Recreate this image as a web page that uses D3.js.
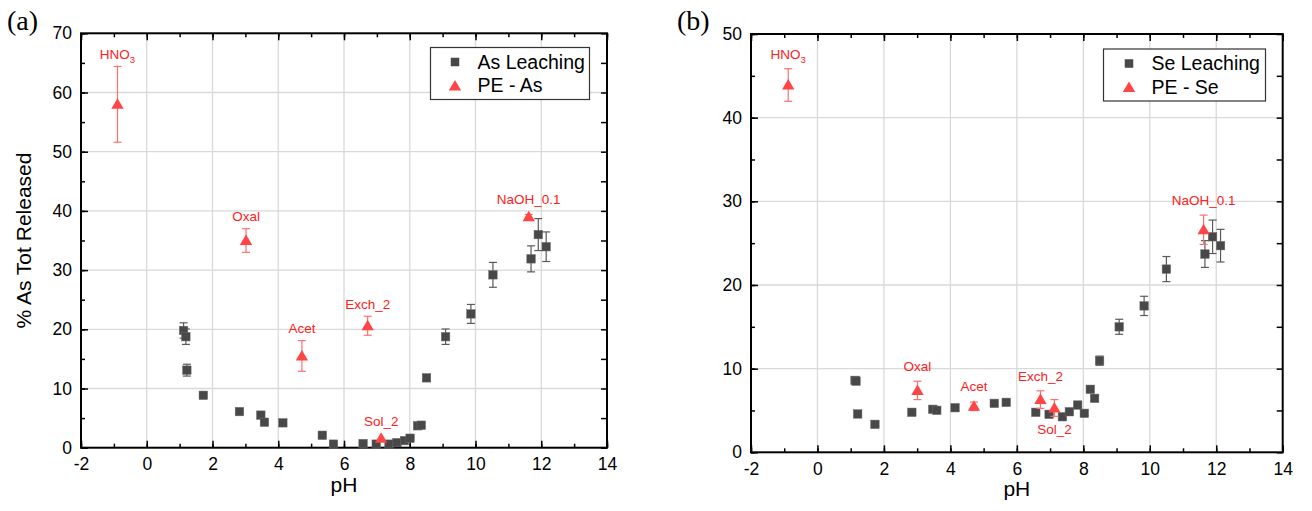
<!DOCTYPE html>
<html><head><meta charset="utf-8">
<script src="https://cdn.jsdelivr.net/npm/d3@7"></script>
<style>
html,body{margin:0;padding:0;background:#fff;}
svg{display:block;font-family:"Liberation Sans",Arial,sans-serif;}
</style></head>
<body><svg id="chart" width="1312" height="511"></svg>
<script>
// ---------- data ----------
const xTicks = [-2, 0, 2, 4, 6, 8, 10, 12, 14];
const yTicksA = [0, 10, 20, 30, 40, 50, 60, 70];
const yTicksB = [0, 10, 20, 30, 40, 50];

// Panel (a): As leaching
const phA   = [1.12, 1.19, 1.22, 1.72, 2.82, 3.47, 3.58, 4.14, 5.34, 5.68, 6.58, 6.98, 7.37, 7.61, 7.84, 8.01, 8.24, 8.35, 8.51, 9.09, 9.86, 10.53, 11.69, 11.91, 12.15];
const asVal = [19.8, 18.75, 13.1, 8.85, 6.1, 5.5, 4.3, 4.2, 2.1, 0.6, 0.7, 0.6, 0.6, 0.85, 1.2, 1.6, 3.7, 3.8, 11.8, 18.75, 22.6, 29.2, 31.9, 36.0, 33.95];
const asErr = [1.3, 1.3, 1.0, 0.3, 0.3, 0.3, 0.3, 0.3, 0.2, 0.2, 0.2, 0.2, 0.2, 0.2, 0.2, 0.2, 0.3, 0.3, 0.5, 1.3, 1.6, 2.1, 2.2, 2.7, 2.5];

// PE extractions
const peNames = ["HNO3", "Oxal", "Acet", "Exch_2", "Sol_2", "NaOH_0.1"];
const pePhA   = [-0.89, 3.02, 4.72, 6.72, 7.13, 11.62];
const peAs    = [58.0, 35.0, 15.5, 20.6, 1.6, 39.0];
const peAsErr = [6.4, 2.0, 2.6, 1.6, 0, 0.4];

// Panel (b): Se leaching
const phB   = [1.13, 1.16, 1.21, 1.73, 2.84, 3.47, 3.59, 4.14, 5.32, 5.68, 6.57, 6.97, 7.37, 7.58, 7.83, 8.03, 8.21, 8.34, 8.49, 9.08, 9.83, 10.5, 11.66, 11.89, 12.13];
const seVal = [8.6, 8.5, 4.58, 3.34, 4.78, 5.14, 5.02, 5.33, 5.85, 5.97, 4.78, 4.54, 4.25, 4.85, 5.65, 4.66, 7.53, 6.45, 10.95, 15.0, 17.5, 21.9, 23.7, 25.76, 24.7];
const seErr = [0.3, 0.3, 0.2, 0.2, 0.2, 0.2, 0.2, 0.2, 0.2, 0.2, 0.2, 0.2, 0.2, 0.2, 0.2, 0.2, 0.3, 0.3, 0.55, 0.9, 1.15, 1.5, 1.6, 2.0, 1.95];

const pePhB   = [-0.88, 3.01, 4.71, 6.71, 7.13, 11.62];
const peSe    = [43.9, 7.4, 5.5, 6.3, 5.3, 26.6];
const peSeErr = [1.95, 1.1, 0.5, 1.05, 1.0, 1.75];

// ---------- drawing ----------
const svg = d3.select("#chart");
const SQ = "#484848", TRI = "#ff4545", LBL = "#ff2020";
const fmt = d => String(d);

function panel(cfg) {
  const g = svg.append("g");
  const x = d3.scaleLinear().domain([-2, 14]).range([cfg.left, cfg.right]);
  const y = d3.scaleLinear().domain([0, cfg.ymax]).range([cfg.bottom, cfg.top]);
  const minorX = d3.range(-2, 14.01, 1);
  const minorY = d3.range(0, cfg.ymax + 0.01, 5);

  // grid
  g.append("g").selectAll("line").data(xTicks.slice(1, -1)).join("line")
    .attr("x1", d => x(d)).attr("x2", d => x(d)).attr("y1", cfg.top).attr("y2", cfg.bottom)
    .attr("stroke", "#d9d9d9").attr("stroke-width", 1.3);
  g.append("g").selectAll("line").data(cfg.yTicks.slice(1, -1)).join("line")
    .attr("y1", d => y(d)).attr("y2", d => y(d)).attr("x1", cfg.left).attr("x2", cfg.right)
    .attr("stroke", "#d9d9d9").attr("stroke-width", 1.3);

  // axes
  const fs = "17.5px";
  const styleAx = sel => {
    sel.select(".domain").remove();
    sel.selectAll(".tick line").attr("stroke", "#000").attr("stroke-width", 1.5);
    sel.selectAll("text").attr("fill", "#000").style("font-size", fs)
      .style("font-family", "'Liberation Sans',Arial,sans-serif");
  };
  // minor ticks
  g.append("g").attr("transform", `translate(0,${cfg.bottom})`)
    .call(d3.axisBottom(x).tickValues(minorX).tickSize(-4).tickFormat("")).call(styleAx);
  g.append("g").attr("transform", `translate(0,${cfg.top})`)
    .call(d3.axisTop(x).tickValues(minorX).tickSize(-4).tickFormat("")).call(styleAx);
  g.append("g").attr("transform", `translate(${cfg.left},0)`)
    .call(d3.axisLeft(y).tickValues(minorY).tickSize(-4).tickFormat("")).call(styleAx);
  g.append("g").attr("transform", `translate(${cfg.right},0)`)
    .call(d3.axisRight(y).tickValues(minorY).tickSize(-6).tickFormat("")).call(styleAx);
  // major ticks
  g.append("g").attr("transform", `translate(0,${cfg.bottom})`)
    .call(d3.axisBottom(x).tickValues(xTicks).tickSize(-7).tickPadding(10).tickFormat(fmt)).call(styleAx);
  g.append("g").attr("transform", `translate(0,${cfg.top})`)
    .call(d3.axisTop(x).tickValues(xTicks).tickSize(-7).tickFormat("")).call(styleAx);
  g.append("g").attr("transform", `translate(${cfg.left},0)`)
    .call(d3.axisLeft(y).tickValues(cfg.yTicks).tickSize(-7).tickPadding(9).tickFormat(fmt)).call(styleAx);

  // frame
  g.append("rect").attr("x", cfg.left).attr("y", cfg.top)
    .attr("width", cfg.right - cfg.left).attr("height", cfg.bottom - cfg.top)
    .attr("fill", "none").attr("stroke", "#000").attr("stroke-width", 2);

  // leaching error bars + squares
  const sq = cfg.ph.map((p, i) => ({p, v: cfg.val[i], e: cfg.err[i]}));
  const eb = g.append("g").attr("stroke", "#5a5a5a").attr("stroke-width", 1.2);
  sq.forEach(d => {
    eb.append("line").attr("x1", x(d.p)).attr("x2", x(d.p)).attr("y1", y(d.v - d.e)).attr("y2", y(d.v + d.e));
    [d.v - d.e, d.v + d.e].forEach(v => eb.append("line")
      .attr("x1", x(d.p) - 4).attr("x2", x(d.p) + 4).attr("y1", y(v)).attr("y2", y(v)));
  });
  g.append("g").selectAll("rect").data(sq).join("rect")
    .attr("x", d => x(d.p) - 4.25).attr("y", d => y(d.v) - 4.25)
    .attr("width", 8.5).attr("height", 8.5).attr("fill", SQ)
    .attr("stroke", "#6a6a6a").attr("stroke-width", 0.5);

  // PE triangles
  const pe = cfg.pePh.map((p, i) => ({p, v: cfg.pe[i], e: cfg.peErr[i], name: peNames[i]}));
  const eb2 = g.append("g").attr("stroke", "#ff7070").attr("stroke-width", 1.2);
  pe.forEach(d => {
    if (d.e <= 0) return;
    eb2.append("line").attr("x1", x(d.p)).attr("x2", x(d.p)).attr("y1", y(d.v - d.e)).attr("y2", y(d.v + d.e));
    [d.v - d.e, d.v + d.e].forEach(v => eb2.append("line")
      .attr("x1", x(d.p) - 4).attr("x2", x(d.p) + 4).attr("y1", y(v)).attr("y2", y(v)));
  });
  const tri = (cx, cy) => `M${cx},${cy - 6}L${cx + 6.2},${cy + 4.5}L${cx - 6.2},${cy + 4.5}Z`;
  g.append("g").selectAll("path").data(pe).join("path")
    .attr("d", d => tri(x(d.p), y(d.v))).attr("fill", TRI);

  // PE labels
  pe.forEach(d => {
    const below = cfg.below.includes(d.name);
    let ty;
    if (below) ty = Math.max(y(d.v - d.e), y(d.v) + 5) + 18;
    else ty = Math.min(y(d.v + d.e), y(d.v) - 5) - cfg.gap;
    const t = g.append("text").attr("x", x(d.p)).attr("y", ty)
      .attr("text-anchor", "middle").attr("fill", LBL).style("font-size", "13.5px");
    if (d.name === "HNO3") {
      t.append("tspan").text("HNO");
      t.append("tspan").attr("dy", 4).style("font-size", "9.5px").text("3");
    } else t.text(d.name);
  });

  // legend
  const L = cfg.legend;
  g.append("rect").attr("x", L.x).attr("y", L.y).attr("width", L.w).attr("height", L.h)
    .attr("fill", "#fff").attr("stroke", "#333").attr("stroke-width", 1.2);
  g.append("rect").attr("x", L.mx - 4.25).attr("y", L.y + 14.5 - 4.25).attr("width", 8.5).attr("height", 8.5).attr("fill", SQ);
  g.append("path").attr("d", tri(L.mx, L.y + 38.5)).attr("fill", TRI);
  g.append("text").attr("x", L.tx).attr("y", L.y + 21).style("font-size", "19.5px").attr("fill", "#000").text(L.t1);
  g.append("text").attr("x", L.tx).attr("y", L.y + 44.5).style("font-size", "19.5px").attr("fill", "#000").text(L.t2);

  // axis titles
  g.append("text").attr("x", (cfg.left + cfg.right) / 2).attr("y", cfg.bottom + 44)
    .attr("text-anchor", "middle").style("font-size", "21px").attr("fill", "#000").text("pH");
  if (cfg.ytitle) {
    g.append("text").attr("transform", `translate(${cfg.left - 50},${(cfg.top + cfg.bottom) / 2}) rotate(-90)`)
      .attr("text-anchor", "middle").style("font-size", "21px").attr("fill", "#000").text(cfg.ytitle);
  }
  g.append("text").attr("x", cfg.tagX).attr("y", 30)
    .style("font-family", "'Liberation Serif','Times New Roman',serif").style("font-size", "28px")
    .attr("fill", "#000").text(cfg.tag);
}

panel({
  left: 81, right: 607, top: 33.3, bottom: 447.7, ymax: 70, yTicks: yTicksA,
  ph: phA, val: asVal, err: asErr, pePh: pePhA, pe: peAs, peErr: peAsErr,
  below: [], gap: 7.5, ytitle: "% As Tot Released", tag: "(a)", tagX: 7,
  legend: {x: 430.5, y: 47.5, w: 159, h: 52, mx: 455, tx: 477.5, t1: "As Leaching", t2: "PE - As"}
});
panel({
  left: 751, right: 1282.7, top: 34, bottom: 452.3, ymax: 50, yTicks: yTicksB,
  ph: phB, val: seVal, err: seErr, pePh: pePhB, pe: peSe, peErr: peSeErr,
  below: ["Sol_2"], gap: 10, ytitle: null, tag: "(b)", tagX: 677,
  legend: {x: 1103.5, y: 49, w: 162, h: 52, mx: 1129, tx: 1151.5, t1: "Se Leaching", t2: "PE - Se"}
});
</script></body></html>
